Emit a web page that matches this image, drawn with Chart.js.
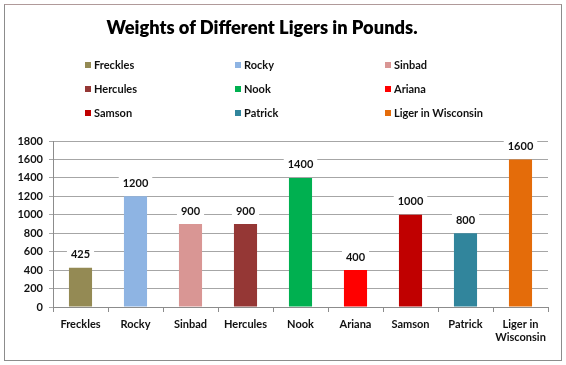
<!DOCTYPE html>
<html>
<head>
<meta charset="utf-8">
<script src="https://cdn.jsdelivr.net/npm/chart.js@4.4.1/dist/chart.umd.min.js"></script>
<style>
  html, body { margin: 0; padding: 0; background: #ffffff; }
  #wrap { position: relative; width: 566px; height: 365px; overflow: hidden; background: #fff; }
  #frame { position: absolute; left: 4px; top: 4px; width: 556px; height: 355px; border: 1px solid #8c8c8c; border-top-color: #b09a9a; box-sizing: content-box; }
  #c { position: absolute; left: 0; top: 0; }
  #title { position: absolute; left: 62px; width: 400px; top: 15px; text-align: center; font-family: Lato, "Open Sans", sans-serif; font-size: 18.3px; font-weight: 800; color: #000; line-height: 24px; white-space: nowrap; }
  .lg { position: absolute; font: bold 11px Lato, "Open Sans", sans-serif; color: #111; white-space: nowrap; line-height: 12px; }
  .lg i { position: absolute; width: 6px; height: 6px; left: -9px; top: 3px; }
</style>
</head>
<body>
<div id="wrap">
  <div id="frame"></div>
  <canvas id="c" width="566" height="365"></canvas>
  <div id="title"></div>
  <div id="legend"></div>
</div>
<script>
const chartTitle = 'Weights of Different Ligers in Pounds.';
const categories = ['Freckles', 'Rocky', 'Sinbad', 'Hercules', 'Nook', 'Ariana', 'Samson', 'Patrick', 'Liger in Wisconsin'];
const tickLabels = ['Freckles', 'Rocky', 'Sinbad', 'Hercules', 'Nook', 'Ariana', 'Samson', 'Patrick', ['Liger in', 'Wisconsin']];
const weights = [425, 1200, 900, 900, 1400, 400, 1000, 800, 1600];
const barColors = ['#948A54', '#8EB4E3', '#D99694', '#953735', '#00B050', '#FF0000', '#C00000', '#31859C', '#E46C0A'];
const yTicks = [0, 200, 400, 600, 800, 1000, 1200, 1400, 1600, 1800];

document.getElementById('title').textContent = chartTitle;

// legend (3 columns x 3 rows, row-major)
const legendEl = document.getElementById('legend');
const colX = [94, 244, 394];
const rowY = [59, 83, 107];
categories.forEach((name, i) => {
  const d = document.createElement('div');
  d.className = 'lg';
  d.style.left = colX[i % 3] + 'px';
  d.style.top = rowY[Math.floor(i / 3)] + 'px';
  const sw = document.createElement('i');
  sw.style.background = barColors[i];
  d.appendChild(sw);
  d.appendChild(document.createTextNode(name));
  legendEl.appendChild(d);
});

const valueLabels = {
  id: 'valueLabels',
  afterDatasetsDraw(chart) {
    const ctx = chart.ctx;
    const meta = chart.getDatasetMeta(0);
    ctx.save();
    ctx.font = 'bold 11px Lato, "Open Sans", sans-serif';
    ctx.textAlign = 'center';
    ctx.textBaseline = 'middle';
    meta.data.forEach((bar, i) => {
      const txt = String(chart.data.datasets[0].data[i]);
      const w = ctx.measureText(txt).width;
      const y = bar.y - 13;
      ctx.fillStyle = '#ffffff';
      ctx.fillRect(bar.x - w / 2 - 4, y - 7, w + 8, 14);
      ctx.fillStyle = '#111111';
      ctx.fillText(txt, bar.x, y);
    });
    ctx.restore();
  }
};

new Chart(document.getElementById('c'), {
  type: 'bar',
  data: {
    labels: tickLabels,
    datasets: [{
      data: weights,
      backgroundColor: barColors,
      borderWidth: 0,
      barPercentage: 0.42,
      categoryPercentage: 1.0
    }]
  },
  options: {
    responsive: false,
    animation: false,
    devicePixelRatio: 1,
    layout: { padding: { top: 141, left: 5, right: 18, bottom: 4 } },
    plugins: {
      legend: { display: false },
      tooltip: { enabled: false },
      title: { display: false }
    },
    scales: {
      x: {
        offset: true,
        grid: { offset: true, drawOnChartArea: false, drawTicks: true, tickLength: 5, color: '#8c8c8c' },
        border: { color: '#8c8c8c' },
        ticks: { color: '#111', font: { family: 'Lato, "Open Sans", sans-serif', size: 11, weight: 'bold' }, padding: 6, maxRotation: 0, autoSkip: false },
        afterFit(s) { s.height = 54; }
      },
      y: {
        min: 0, max: 1800,
        afterBuildTicks(s) { s.ticks = yTicks.map(v => ({ value: v })); },
        grid: { color: '#a6a6a6', tickLength: 4, drawTicks: true },
        border: { color: '#8c8c8c' },
        ticks: { color: '#111', font: { family: 'Lato, "Open Sans", sans-serif', size: 11, weight: 'bold' }, padding: 6, callback: v => String(v) },
        afterFit(s) { s.width = 48; }
      }
    }
  },
  plugins: [valueLabels]
});
</script>
</body>
</html>
